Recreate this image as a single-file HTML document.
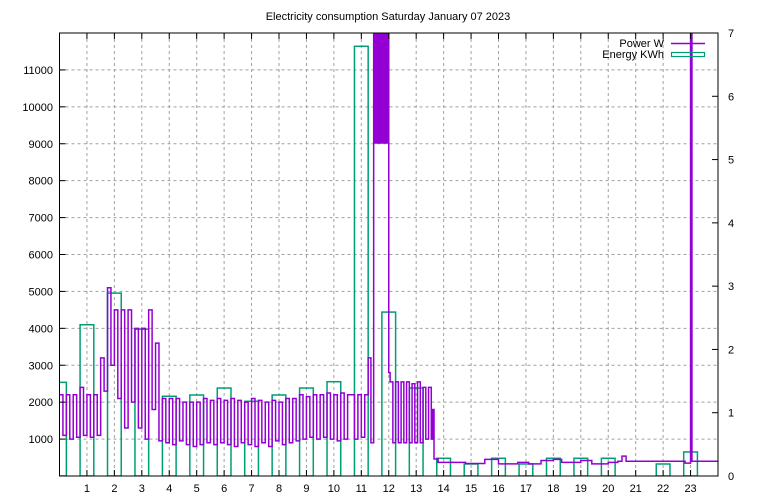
<!DOCTYPE html>
<html><head><meta charset="utf-8"><style>
body{margin:0;background:#fff}
svg{display:block;font-family:"Liberation Sans",sans-serif;font-size:11px}
</style></head><body>
<svg id="chart" width="768" height="500" xmlns="http://www.w3.org/2000/svg">
<text x="388" y="20" text-anchor="middle">Electricity consumption Saturday January 07 2023</text>
<defs><clipPath id="clip"><rect x="59.5" y="33" width="658.5" height="443"/></clipPath></defs>
<g id="grid"></g>
<g id="energy" clip-path="url(#clip)"></g>
<g id="power" clip-path="url(#clip)"></g>
<rect x="59.5" y="33" width="658.5" height="443" fill="none" stroke="#000"/>
<g id="axes"></g>
<g>
<text x="664" y="47" text-anchor="end">Power W</text>
<line x1="671" y1="43.5" x2="705" y2="43.5" stroke="#9400d3" stroke-width="1.5"/>
<text x="664" y="58" text-anchor="end">Energy KWh</text>
<rect x="671.5" y="52.5" width="33" height="4" fill="none" stroke="#009e73" stroke-width="1.2"/>
</g>
</svg>
<script>
const energyHours=[0,1,2,3,4,5,6,7,8,9,10,11,12,13,14,15,16,17,18,19,20,22,23];
const energyValues=[1.48,2.39,2.89,2.32,1.26,1.28,1.39,1.18,1.28,1.39,1.49,6.79,2.59,1.39,0.28,0.19,0.28,0.19,0.28,0.28,0.28,0.19,0.38];
const powerRegular=[2200,1100,2200,1000,2200,1050,2400,1100,2200,1050,2200,1100,
3200,2300,5100,3000,4500,2100,4500,1300,4500,2000,4000,1300,4000,1000,4500,1800,
3600,950,2100,900,2100,850,2100,950,2000,850,
2000,800,2000,850,2100,900,2050,850,2100,900,
2050,850,2100,800,2050,900,2000,850,2100,800,
2050,900,2000,800,2050,950,2000,850,2100,900,
2100,950,2200,1000,2150,1050,2200,1000,2200,1050,
2250,1000,2200,950,2250,1000,2200,2200,1000,2200,1050,2200];
const powerTailTimes=[11.25,11.35,11.45,12.0,12.05,12.15,12.25,12.35,12.45,12.55,12.65,12.75,12.85,12.95,13.05,13.15,13.25,13.35,13.45,13.55,13.6,13.65,13.8,14.8,15.5,16.0,16.7,17.1,17.55,18.0,18.3,19.0,19.4,20.0,20.35,20.5,20.65,22.8,23.0,23.05,24];
const powerTailValues=[3200,900,12500,2800,2550,900,2550,900,2550,900,2550,900,2500,900,2550,900,2400,1000,2400,1000,1800,460,370,340,450,330,370,330,420,450,370,420,330,370,400,540,400,350,12000,400,400];
const burst=[11.45,12.0,9000];
const xTicks=[1,2,3,4,5,6,7,8,9,10,11,12,13,14,15,16,17,18,19,20,21,22,23];
const yTicks=[1000,2000,3000,4000,5000,6000,7000,8000,9000,10000,11000];
const y2Ticks=[0,1,2,3,4,5,6,7];

const L=59.5,R=718,T=33,B=476,NS="http://www.w3.org/2000/svg";
const X=h=>L+h/24*(R-L), Y=v=>B-v/12000*(B-T), Y2=v=>B-v/7*(B-T);
function mk(p,tag,a){const e=document.createElementNS(NS,tag);for(const k in a)e.setAttribute(k,a[k]);document.getElementById(p).appendChild(e);return e;}
xTicks.forEach(h=>{const x=X(h);
 let g=mk('grid','line',{x1:x,x2:x,y1:T,y2:B,stroke:'#a0a0a0','stroke-dasharray':'3,3'});
 
 
 let t=mk('axes','path',{d:`M${x},${B}v-6M${x},${T}v6`,stroke:'#000'});
 
 
 let l=mk('axes','text',{x:x,y:492,'text-anchor':'middle'});l.textContent=h;
 
 
});
yTicks.forEach(v=>{const y=Y(v);
 let g=mk('grid','line',{x1:L,x2:R,y1:y,y2:y,stroke:'#a0a0a0','stroke-dasharray':'3,3'});
 
 
 let t=mk('axes','path',{d:`M${L},${y}h6`,stroke:'#000'});
 
 
 let l=mk('axes','text',{x:53,y:y+4,'text-anchor':'end'});l.textContent=v;
 
 
});
y2Ticks.forEach(v=>{const y=Y2(v);
 let t=mk('axes','path',{d:`M${R},${y}h-6`,stroke:'#000'});
 
 
 let l=mk('axes','text',{x:728,y:y+4});l.textContent=v;
 
 
});
energyHours.forEach((h,i)=>{
 const x0=X(h-0.25),x1=X(h+0.25),y=Y2(energyValues[i]);
 let r=mk('energy','rect',{x:x0,y:y,width:x1-x0,height:B-y,fill:'none',stroke:'#009e73','stroke-width':1.5});
 
 
});
const times=powerRegular.map((v,i)=>i*0.125).concat(powerTailTimes);
const vals=powerRegular.concat(powerTailValues);
let d=`M${X(times[0])},${Y(vals[0])}`;
for(let i=1;i<times.length;i++){d+=`H${X(times[i])}V${Y(vals[i])}`;}
let br=mk('power','rect',{x:X(burst[0]),y:T,width:X(burst[1])-X(burst[0]),height:Y(burst[2])-T,fill:'#9400d3'});


let pl=mk('power','path',{d:d,fill:'none',stroke:'#9400d3','stroke-width':1.5});


</script>
</body></html>
